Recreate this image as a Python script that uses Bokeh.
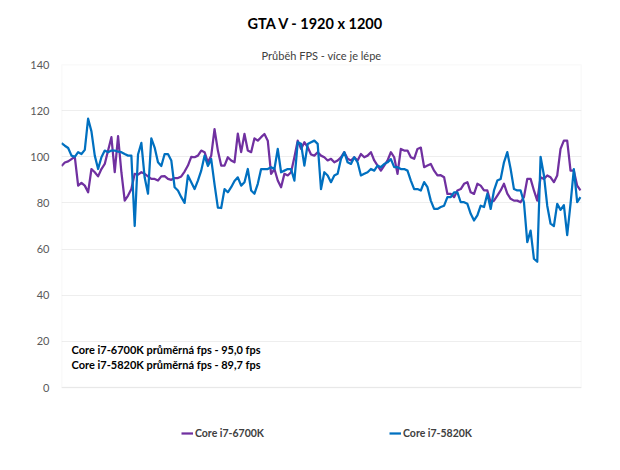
from bokeh.plotting import figure
from bokeh.models import Range1d, Label, Legend, LegendItem, FixedTicker, Title, BoxAnnotation
from bokeh.embed import file_html
from bokeh.resources import INLINE

title_text = "GTA V - 1920 x 1200"
subtitle_text = "Průběh FPS - více je lépe"
series_names = ["Core i7-6700K", "Core i7-5820K"]
series_colors = ["#7030A0", "#0070C0"]
avg_notes = ["Core i7-6700K průměrná fps - 95,0 fps",
             "Core i7-5820K průměrná fps - 89,7 fps"]
y_ticks = [0, 20, 40, 60, 80, 100, 120, 140]

fps_6700k = [
    96, 97.5, 98, 99, 100, 87.5, 88.7, 87.5, 84.6, 94.7,
    93.3, 91.5, 94.7, 96.9, 102.7, 108.5, 93.3, 109, 93.3, 81,
    83.2, 86, 92.6, 92.3, 93.3, 92.6, 91.5, 90.4, 90.4, 89.7,
    91.5, 91.6, 90.4, 90, 90.8, 90.8, 91.5, 93.6, 96.2, 100,
    99.8, 100.5, 102.7, 102, 97.6, 100.5, 112, 102.7, 96.2, 96.2,
    99.8, 98.4, 97.6, 110, 102, 109.9, 102.7, 102, 108, 107,
    108.5, 109.9, 107, 92.6, 94.7, 89.7, 86.8, 92.6, 91.9, 93.3,
    99.8, 107, 103.4, 106.3, 104.2, 101, 100.5, 102, 100.5, 99.8,
    98.4, 99.1, 97.6, 98.4, 99.8, 102, 99.1, 98.4, 99.8, 98.4,
    101.2, 99.8, 100.5, 102, 98.4, 96.2, 94, 96.2, 98.4, 102,
    99.8, 92.6, 103.4, 102.7, 102.7, 99.8, 99.1, 103.4, 104, 95.5,
    96.2, 96.9, 94, 91.9, 92, 91.1, 83.9, 83.9, 82.5, 85.4,
    86, 88.3, 89, 84.6, 83.9, 88.3, 87.5, 85.4, 85.4, 80.3,
    81, 83.2, 85.4, 88.3, 84, 81.8, 81, 81, 80.3, 82.5,
    90.4, 90.4, 85.4, 81, 91.1, 90.4, 91.9, 91.1, 89, 91.9,
    103.4, 107, 107, 94, 94, 87.5, 85.4,
]

fps_5820k = [
    105.9, 104.8, 103.8, 100.5, 100, 102, 101.2, 103, 116.5, 111,
    100.5, 94.7, 99.8, 102.7, 102, 102.7, 102.7, 102.2, 102, 101.2,
    100.5, 100.5, 70, 101, 106, 91, 84, 108, 104, 97.6,
    96, 101.2, 101.2, 98.4, 86.8, 85.4, 82.5, 80, 91.9, 89,
    86, 89.7, 94, 100.5, 96, 99, 88, 78, 77.8, 86,
    84.6, 86.8, 89.5, 91.1, 87.5, 89, 94.7, 85.4, 84, 88.3,
    94.7, 94.7, 94.7, 95.5, 94.7, 103.4, 93.3, 94, 94.7, 94.7,
    89.7, 106.3, 105.6, 96.2, 105.5, 106.3, 107, 105.6, 86, 93.3,
    91.9, 89, 91.9, 92.6, 99, 102, 97.6, 96.9, 99.8, 97.6,
    91.9, 92.6, 93.3, 94.7, 94, 96.2, 95.5, 96.9, 97.6, 99,
    95.5, 95.5, 94.7, 94.7, 94, 89.7, 86, 86, 85.4, 89,
    86.8, 81, 77.4, 77.4, 78.2, 78.8, 82.5, 82.5, 84.6, 84.6,
    80.3, 80.3, 79.6, 75.3, 72.4, 74.6, 78.8, 78.2, 84, 77.4,
    85.4, 89.7, 90.4, 97.6, 102, 94.7, 86, 85.4, 85.4, 80.3,
    63, 68, 55.8, 54.5, 100, 92, 78.8, 71, 70, 79.6,
    77, 79, 66, 79.6, 94.7, 80.3, 82.5,
]

sample = list(range(len(fps_6700k)))

FONT = "Lato"
W, H = 610, 460
ML, MR, MT, MB = 61, 29, 64, 8
# plot box: y_ticks[-1] at frame top, y_ticks[0] this many px below it
BOX_PX = 323
frame_h = H - MT - MB
ppu = BOX_PX / (y_ticks[-1] - y_ticks[0])
y_low = y_ticks[0] - (frame_h - BOX_PX) / ppu

p = figure(width=W, height=H, output_backend="svg", toolbar_location=None,
           x_range=Range1d(0, len(sample) - 1 + 0.3), y_range=Range1d(y_low, y_ticks[-1]),
           min_border_left=ML, min_border_right=MR, min_border_top=MT, min_border_bottom=MB)
p.background_fill_color = "white"
p.border_fill_color = "white"
p.outline_line_color = None

p.xaxis.visible = False
p.xgrid.visible = False
p.ygrid.grid_line_color = "#EEEEEE"
p.ygrid.grid_line_width = 1

# plot-area border
p.add_layout(BoxAnnotation(bottom=y_ticks[0], top=y_ticks[-1], fill_alpha=0,
                           line_color="#D9D9D9", line_width=1.5))

ya = p.yaxis[0]
ya.ticker = FixedTicker(ticks=y_ticks)
ya.axis_line_color = None
ya.major_tick_line_color = None
ya.minor_tick_line_color = None
ya.major_tick_out = 0
ya.major_tick_in = 0
ya.major_label_standoff = 12
ya.major_label_text_font = FONT
ya.major_label_text_font_size = "11px"
ya.major_label_text_color = "#595959"

renderers = []
for vals, col in zip([fps_6700k, fps_5820k], series_colors):
    r = p.line(sample, vals, line_color=col, line_width=2.25, line_join="round")
    renderers.append(r)

# Titles (subtitle first = closest to the frame)
p.add_layout(Title(text=subtitle_text, align="center", text_font=FONT,
                   text_font_size="11px", text_font_style="normal",
                   text_color="#404040", standoff=6), "above")
p.add_layout(Title(text=title_text, align="left", offset=186, text_font=FONT,
                   text_font_size="14.5px", text_font_style="bold",
                   text_color="#000000", standoff=23), "above")

# Average notes (inside the plot area)
for note, yy in zip(avg_notes, [103, 88]):
    p.add_layout(Label(x=10, y=yy, x_units="screen", y_units="screen",
                       text=note, text_font=FONT, text_font_size="11px",
                       text_font_style="bold", text_color="#000000",
                       text_align="left", text_baseline="middle"))

# Legend below the plot box
legend = Legend(items=[LegendItem(label=n, renderers=[r]) for n, r in zip(series_names, renderers)],
                location=(120, 13), orientation="horizontal", padding=0, margin=0,
                spacing=125, glyph_width=12, glyph_height=12, label_height=12,
                label_standoff=2, label_text_font=FONT, label_text_font_size="10.5px",
                label_text_font_style="bold", label_text_color="#404040",
                background_fill_alpha=0, border_line_color=None)
p.add_layout(legend, "center")

open("out.html", "w").write(file_html(p, INLINE))
